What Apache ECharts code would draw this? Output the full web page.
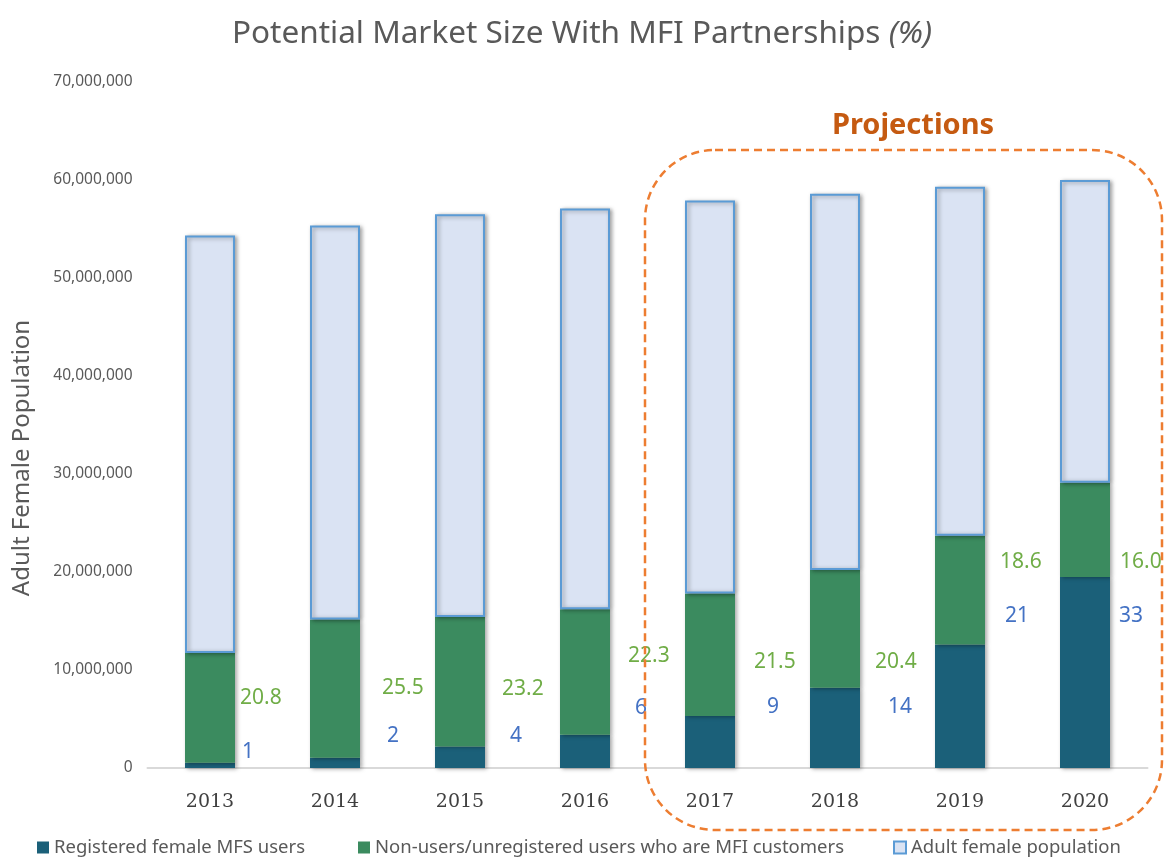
<!DOCTYPE html>
<html>
<head>
<meta charset="utf-8">
<script src="https://cdn.jsdelivr.net/npm/echarts@6/dist/echarts.min.js"></script>
<style>
  html, body { margin: 0; padding: 0; background: #fff; }
  #chart { width: 1164px; height: 857px; }
</style>
</head>
<body>
<div id="chart"></div>
<script>
// data
var years = ['2013', '2014', '2015', '2016', '2017', '2018', '2019', '2020'];
var registeredUsers = [540000, 1050000, 2200000, 3400000, 5300000, 8200000, 12600000, 19500000];
var mfiCustomers = [11200000, 14100000, 13200000, 12800000, 12500000, 12000000, 11100000, 9600000];
var otherPopulation = [42600000, 40200000, 41100000, 40900000, 40100000, 38400000, 35600000, 30900000];
var registeredPct = ['1', '2', '4', '6', '9', '14', '21', '33'];
var mfiPct = ['20.8', '25.5', '23.2', '22.3', '21.5', '20.4', '18.6', '16.0'];

// hand placed label nudges (like the original)
var mfiLabelShift = [[5, -10], [22, -1], [17, 7], [18, -16], [19, 7], [15, 33], [15, -28], [10, 32]];
var regLabelShift = [[7, -13], [27, -27], [25, -21], [25, -43], [32, -35], [28, -21], [20, -90], [9, -56]];

var font = 'Noto Sans';
var grey = '#595959';
var barShadow = { shadowBlur: 4, shadowOffsetX: 2, shadowOffsetY: 1, shadowColor: 'rgba(0,0,0,0.35)' };
var legendText = { fontFamily: font, fontSize: 18.5, color: grey };

function withLabels(values, texts, shifts, color) {
    return values.map(function (v, i) {
        return {
            value: v,
            label: {
                show: true,
                position: 'right',
                distance: 0,
                offset: shifts[i],
                formatter: texts[i],
                color: color,
                fontFamily: font,
                fontSize: 21
            }
        };
    });
}

var chart = echarts.init(document.getElementById('chart'));
chart.setOption({
    animation: false,
    title: {
        text: '{n|Potential Market Size With MFI Partnerships }{i|(%)}',
        left: 'center',
        top: 13,
        textStyle: {
            fontWeight: 'normal',
            rich: {
                n: { fontFamily: font, fontSize: 31.5, color: grey, fontWeight: 'normal' },
                i: { fontFamily: font, fontSize: 31.5, color: grey, fontWeight: 'normal', fontStyle: 'italic' }
            }
        }
    },
    legend: [{
        left: 37, top: 838, padding: 0, itemWidth: 12, itemHeight: 12, icon: 'rect',
        data: ['Registered female MFS users'],
        textStyle: legendText
    }, {
        left: 358, top: 838, padding: 0, itemWidth: 12, itemHeight: 12, icon: 'rect',
        data: ['Non-users/unregistered users who are MFI customers'],
        textStyle: legendText
    }, {
        left: 893, top: 838, padding: 0, itemWidth: 12, itemHeight: 12, icon: 'rect',
        data: ['Adult female population'],
        textStyle: legendText
    }],
    grid: { left: 147.5, right: 16.5, top: 82, bottom: 89 },
    xAxis: {
        type: 'category',
        data: years,
        axisLine: { lineStyle: { color: '#d9d9d9', width: 2 } },
        axisTick: { show: false },
        axisLabel: { fontFamily: 'DejaVu Serif', fontSize: 19, color: '#404040', margin: 25 }
    },
    yAxis: {
        type: 'value',
        min: 0,
        max: 70000000,
        interval: 10000000,
        splitLine: { show: false },
        axisLine: { show: false },
        axisTick: { show: false },
        axisLabel: {
            fontFamily: font, fontSize: 15.5, color: grey, margin: 15,
            formatter: function (v) { return v.toLocaleString('en-US'); }
        }
    },
    series: [{
        name: 'Registered female MFS users',
        type: 'bar',
        stack: 'pop',
        barWidth: 50,
        itemStyle: Object.assign({ color: '#1b6079' }, barShadow),
        data: withLabels(registeredUsers, registeredPct, regLabelShift, '#4472c4')
    }, {
        name: 'Non-users/unregistered users who are MFI customers',
        type: 'bar',
        stack: 'pop',
        itemStyle: Object.assign({ color: '#3b8b5f' }, barShadow),
        data: withLabels(mfiCustomers, mfiPct, mfiLabelShift, '#70ad47')
    }, {
        name: 'Adult female population',
        type: 'bar',
        stack: 'pop',
        itemStyle: Object.assign({ color: '#dae3f3', borderColor: '#5b9bd5', borderWidth: 2 }, barShadow),
        data: otherPopulation
    }],
    graphic: [{
        type: 'text',
        x: 22, y: 458,
        rotation: Math.PI / 2,
        style: {
            text: 'Adult Female Population',
            fontFamily: font, fontSize: 24, fill: grey,
            align: 'center', verticalAlign: 'middle'
        }
    }, {
        type: 'rect',
        shape: { x: 645, y: 150, width: 517, height: 680, r: 70 },
        style: { fill: null, stroke: '#ed7d31', lineWidth: 2.5, lineDash: [8, 5] },
        z: 10
    }, {
        type: 'text',
        x: 913, y: 126,
        style: {
            text: 'Projections',
            fontFamily: font, fontSize: 29, fontWeight: 'bold', fill: '#c55a11',
            align: 'center', verticalAlign: 'middle'
        }
    }]
});
</script>
</body>
</html>
